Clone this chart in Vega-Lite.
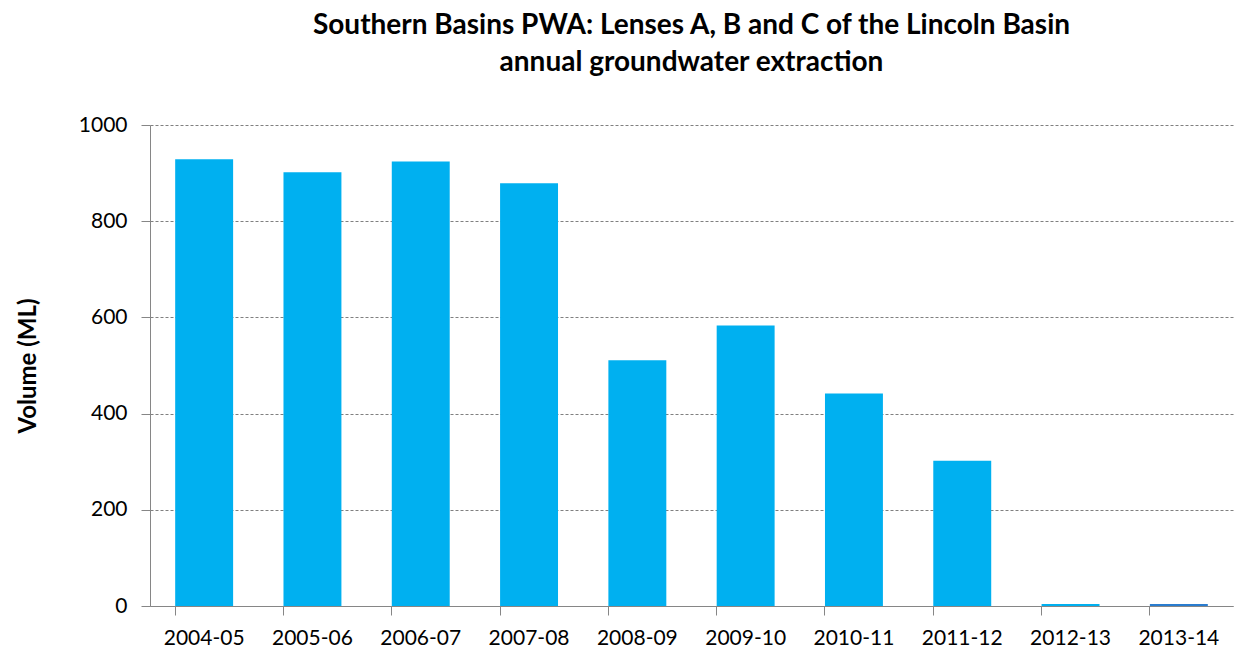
{
  "$schema": "https://vega.github.io/schema/vega-lite/v6.json",
  "width": 1083,
  "height": 481,
  "autosize": {"type": "none"},
  "padding": {"left": 150, "top": 125, "right": 1, "bottom": 47},
  "background": "white",
  "title": {
    "text": ["Southern Basins PWA: Lenses A, B and C of the Lincoln Basin", "annual groundwater extraction"],
    "font": "Lato",
    "fontSize": 28,
    "fontWeight": "bold",
    "color": "#000000",
    "anchor": "middle",
    "lineHeight": 37,
    "offset": 37
  },
  "data": {
    "values": [
      {"year": "2004-05", "volume": 929},
      {"year": "2005-06", "volume": 902},
      {"year": "2006-07", "volume": 924},
      {"year": "2007-08", "volume": 879},
      {"year": "2008-09", "volume": 511},
      {"year": "2009-10", "volume": 583},
      {"year": "2010-11", "volume": 442},
      {"year": "2011-12", "volume": 302},
      {"year": "2012-13", "volume": 4},
      {"year": "2013-14", "volume": 4}
    ]
  },
  "config": {
    "view": {"stroke": null},
    "font": "Lato"
  },
  "mark": {"type": "bar"},
  "encoding": {
    "x": {
      "field": "year",
      "type": "nominal",
      "sort": null,
      "scale": {"paddingInner": 0.465, "paddingOuter": 0.2325},
      "axis": {
        "title": null,
        "labelAngle": 0,
        "labelFont": "Lato",
        "labelFontSize": 21,
        "labelColor": "#000000",
        "labelPadding": 12,
        "bandPosition": 0,
        "ticks": true,
        "tickSize": 9,
        "tickColor": "#868686",
        "domainColor": "#868686",
        "domainWidth": 1,
        "grid": false
      }
    },
    "y": {
      "field": "volume",
      "type": "quantitative",
      "scale": {"domain": [0, 1000], "nice": false},
      "axis": {
        "title": "Volume (ML)",
        "titleFont": "Lato",
        "titleFontSize": 24,
        "titleFontWeight": "bold",
        "titleColor": "#000000",
        "titlePadding": 38,
        "values": [0, 200, 400, 600, 800, 1000],
        "format": "d",
        "labelFont": "Lato",
        "labelFontSize": 21,
        "labelColor": "#000000",
        "labelPadding": 14,
        "tickSize": 9,
        "tickColor": "#868686",
        "domainColor": "#868686",
        "grid": true,
        "gridColor": "#808080",
        "gridDash": [3, 2],
        "gridWidth": 1
      }
    },
    "color": {
      "condition": {"test": "datum.year === '2013-14'", "value": "#2a7ccf"},
      "value": "#00B0F0"
    }
  }
}
